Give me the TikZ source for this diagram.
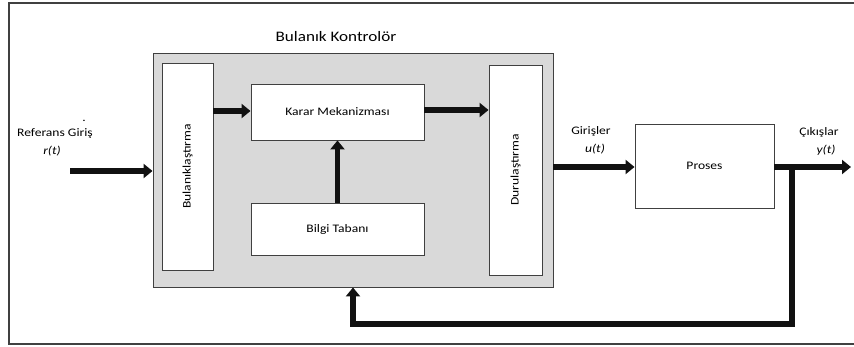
\documentclass[tikz,border=0pt]{standalone}
\usepackage{fontspec}
\setmainfont[FakeStretch=1.18]{Carlito}
\usetikzlibrary{arrows.meta}
\definecolor{panel}{HTML}{D9D9D9}
\definecolor{edge}{HTML}{404040}
\definecolor{ink}{HTML}{111111}
\tikzset{
  blk/.style={draw=edge, line width=0.9pt, fill=white, inner sep=0pt, font=\fontsize{11.5}{13}\selectfont},
  flow/.style={draw=ink, line width=5.5pt, -{Triangle[length=9pt,width=14pt]}},
  lbl/.style={font=\fontsize{11.5}{13}\selectfont, inner sep=0pt},
}
\begin{document}
\begin{tikzpicture}[x=1pt, y=-1pt]
\useasboundingbox (0,0) rectangle (854,347);
% outer frame, open on the right
\draw[edge, line width=1.8pt] (856,3) -- (9,3) -- (9,344) -- (856,344);

% fuzzy controller panel
\node[draw=edge, line width=0.9pt, fill=panel, minimum width=400pt, minimum height=234pt, inner sep=0pt] (ctrl) at (353,170) {};
\node[font=\fontsize{14.5}{16}\selectfont, inner sep=0pt] (title) at (336,37) {Bulanık Kontrolör};

\node[blk, minimum width=51pt, minimum height=207pt] (fuzz) at (187.5,166.5) {};
\node[lbl, rotate=90] (fuzzt) at (fuzz) {Bulanıklaştırma};
\node[blk, minimum width=173pt, minimum height=56pt] (karar) at (337.5,112) {Karar Mekanizması};
\node[blk, minimum width=173pt, minimum height=52pt] (bilgi) at (337.5,229) {Bilgi Tabanı};
\node[blk, minimum width=53pt, minimum height=210pt] (defuzz) at (515.5,170) {};
\node[lbl, rotate=90] (defuzzt) at (defuzz) {Durulaştırma};

% plant
\node[blk, minimum width=139pt, minimum height=84pt] (proses) at (704.5,166) {Proses};

% signal labels
\node[lbl] (ref) at (55,134) {Referans Giriş};
\node[lbl] (refdot) at (84,121) {.};
\node[lbl] (rt) at (52,151) {\itshape r(t)};
\node[lbl] (gir) at (591,131) {Girişler};
\node[lbl] (ut) at (595,149) {\itshape u(t)};
\node[lbl] (cik) at (819,132) {Çıkışlar};
\node[lbl] (yt) at (826,150) {\itshape y(t)};

% connectors
\coordinate (rin) at (70,171);
\coordinate (yout) at (851,167);
\coordinate (tap) at (792,167);
\coordinate (fb) at (353,324);
\draw[flow] (rin) -- (rin -| ctrl.west);
\draw[flow] (fuzz.east |- 0,111) -- (karar.west |- 0,111);
\draw[flow] (karar.east |- 0,110) -- (defuzz.west |- 0,110);
\draw[flow] (bilgi.north) -- (karar.south);
\draw[flow] (ctrl.east |- 0,167) -- (proses.west |- 0,167);
\draw[flow] (proses.east |- 0,167) -- (yout);
\draw[flow, line join=miter] (tap) |- (fb) -- (ctrl.south);
\end{tikzpicture}
\end{document}
